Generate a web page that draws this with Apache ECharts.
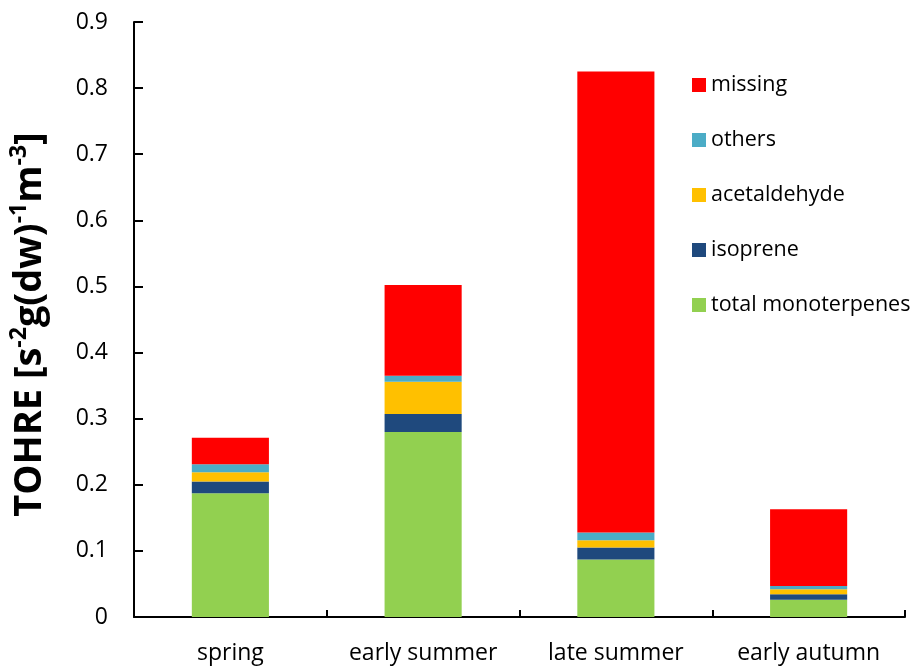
<!DOCTYPE html>
<html>
<head>
<meta charset="utf-8">
<script src="https://cdn.jsdelivr.net/npm/echarts@6/dist/echarts.min.js"></script>
<style>html,body{margin:0;padding:0;background:#fff}#c{width:917px;height:667px}</style>
</head>
<body>
<div id="c"></div>
<script>
const categories = ['spring', 'early summer', 'late summer', 'early autumn'];
const monoterpenes = [0.187, 0.280, 0.087, 0.026];
const isoprene = [0.018, 0.027, 0.018, 0.0085];
const acetaldehyde = [0.014, 0.049, 0.011, 0.0075];
const others = [0.012, 0.009, 0.012, 0.005];
const missing = [0.040, 0.137, 0.697, 0.116];
const yTicks = { min: 0, max: 0.9, interval: 0.1 };

const FONT = '"Open Sans", "Noto Sans", sans-serif';
const chart = echarts.init(document.getElementById('c'), null, { renderer: 'canvas' });

function mk(name, data, color) {
  return { name, type: 'bar', stack: 'total', data, barWidth: '40%',
    itemStyle: { color }, emphasis: { disabled: true } };
}

chart.setOption({
  animation: false,
  backgroundColor: '#ffffff',
  textStyle: { fontFamily: FONT, color: '#000' },
  grid: { left: 130, right: 12, top: 22, bottom: 50, containLabel: false },
  legend: {
    orient: 'vertical', left: 687, top: 69,
    itemWidth: 14, itemHeight: 14, itemGap: 33, icon: 'rect',
    textStyle: { fontFamily: FONT, fontSize: 21.5, color: '#000', lineHeight: 20 },
    data: ['missing', 'others', 'acetaldehyde', 'isoprene', 'total monoterpenes']
  },
  xAxis: {
    type: 'category', data: categories,
    axisLine: { lineStyle: { color: '#000', width: 2 } },
    axisTick: { show: true, inside: true, length: 7, interval: 0, lineStyle: { color: '#000', width: 2 } },
    axisLabel: { fontFamily: FONT, fontSize: 23, color: '#000', margin: 25, interval: 0, hideOverlap: false },
    splitLine: { show: false }
  },
  yAxis: {
    type: 'value', min: yTicks.min, max: yTicks.max, interval: yTicks.interval,
    axisLine: { show: true, lineStyle: { color: '#000', width: 2 } },
    axisTick: { show: true, inside: true, length: 9, lineStyle: { color: '#000', width: 2 } },
    axisLabel: { fontFamily: FONT, fontSize: 23, color: '#000', margin: 26,
      formatter: v => (Math.abs(v) < 1e-9 ? '0' : v.toFixed(1)) },
    splitLine: { show: false },
    name: '{b|TOHRE [s}{s|-2}{b|g(dw)}{s|-1}{b|m}{s|-3}{b|]}',
    nameLocation: 'middle', nameGap: 81, nameRotate: 90,
    nameTextStyle: {
      fontFamily: FONT, fontWeight: 'bold', fontSize: 38, color: '#000',
      padding: [0, 10, 0, 0],
      rich: {
        b: { fontFamily: FONT, fontWeight: 'bold', fontSize: 38, color: '#000', lineHeight: 45 },
        s: { fontFamily: FONT, fontWeight: 'bold', fontSize: 23, color: '#000', lineHeight: 23, verticalAlign: 'top' }
      }
    }
  },
  series: [
    mk('total monoterpenes', monoterpenes, '#92D050'),
    mk('isoprene', isoprene, '#1F497D'),
    mk('acetaldehyde', acetaldehyde, '#FFC000'),
    mk('others', others, '#4BACC6'),
    mk('missing', missing, '#FF0000')
  ]
});
</script>
</body>
</html>
